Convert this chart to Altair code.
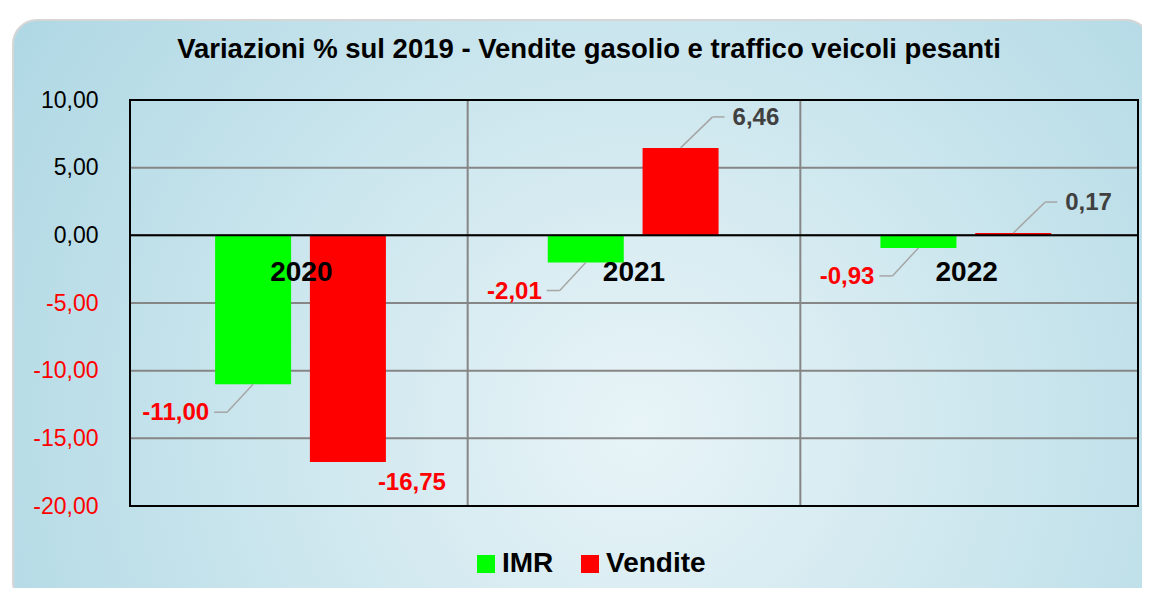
import altair as alt
import pandas as pd

# ---- data ----
years = ["2020", "2021", "2022"]
imr = [-11.00, -2.01, -0.93]
vendite = [-16.75, 6.46, 0.17]
series_names = ["IMR", "Vendite"]
series_colors = ["#00ff00", "#ff0000"]
y_ticks = [-20, -15, -10, -5, 0, 5, 10]
title_text = "Variazioni % sul 2019 - Vendite gasolio e traffico veicoli pesanti"

rows = []
for i, yr in enumerate(years):
    rows.append({"year": yr, "idx": i, "series": "IMR", "value": imr[i]})
    rows.append({"year": yr, "idx": i, "series": "Vendite", "value": vendite[i]})
df = pd.DataFrame(rows)
cats = pd.DataFrame({"year": years, "idx": list(range(len(years)))})
grid_y = pd.DataFrame({"value": y_ticks})
grid_x = pd.DataFrame({"pos": list(range(1, len(years)))})

W, H = 1008, 406
FONT = "Liberation Sans"
GRID = "#868686"
LEAD = "#a6a6a6"
FMT = "(datum.value < 0 ? '-' : '') + replace(format(abs(datum.value), '.2f'), '.', ',')"

y_axis = alt.Axis(
    values=y_ticks,
    labelExpr=FMT,
    labelColor={"condition": {"test": "datum.value < 0", "value": "#ff0000"}, "value": "#000000"},
    labelFont=FONT, labelFontSize=23, labelPadding=32,
    grid=False, domain=False, ticks=False, zindex=1, title=None,
)
y_scale = alt.Scale(domain=[-20, 10], nice=False, zero=False)
x_scale = alt.Scale(domain=[0, 3], nice=False, zero=False)


def X(field="pos"):
    return alt.X(f"{field}:Q", scale=x_scale, axis=None)


def Y(field="value"):
    return alt.Y(f"{field}:Q", scale=y_scale, axis=y_axis)


base = alt.Chart(df).transform_calculate(
    pos="datum.idx + 0.5 + (datum.series == 'IMR' ? -0.145 : 0.14)",
    label=FMT,
)

one = pd.DataFrame({"k": [0]})

# card background
card = alt.Chart(one).mark_rect(
    cornerRadius=24,
    stroke="#d6d6d6",
    strokeWidth=2,
    fill=alt.Gradient(
        gradient="radial",
        stops=[alt.GradientStop(color="#e8f4f7", offset=0),
               alt.GradientStop(color="#a9d5e2", offset=1)],
        x1=0.55, y1=0.6, x2=0.55, y2=0.6, r1=0, r2=0.72,
    ),
).encode(x=alt.value(-117), x2=alt.value(W + 12), y=alt.value(-80), y2=alt.value(H + 100))

title = alt.Chart(one).mark_text(
    text=title_text, font=FONT, fontSize=27.5, fontWeight="bold", color="black",
    align="center", baseline="alphabetic",
).encode(x=alt.value(W / 2 - 45), y=alt.value(-42))

hgrid = alt.Chart(grid_y).mark_rule(color=GRID, strokeWidth=2).encode(y=Y())
vgrid = alt.Chart(grid_x).mark_rule(color=GRID, strokeWidth=2).encode(x=X())

bars = base.mark_bar(size=76, orient="vertical").encode(
    x=X(),
    y=Y(),
    y2=alt.datum(0),
    color=alt.Color(
        "series:N",
        scale=alt.Scale(domain=series_names, range=series_colors),
        legend=alt.Legend(
            orient="none", legendX=342, legendY=450, direction="horizontal",
            title=None, symbolType="square", symbolSize=324, symbolStrokeWidth=0,
            labelFont=FONT, labelFontSize=28, labelFontWeight="bold",
            labelColor="#000000", labelOffset=2, columnPadding=22, padding=0,
        ),
    ),
)

zero = alt.Chart(pd.DataFrame({"value": [0]})).mark_rule(color="black", strokeWidth=2).encode(y=Y())

border = alt.Chart(one).mark_rect(
    filled=False, stroke="black", strokeWidth=2
).encode(x=alt.value(0), x2=alt.value(W), y=alt.value(0), y2=alt.value(H))

imr_f = "datum.series == 'IMR'"
ven_pos = "datum.series == 'Vendite' && datum.value > 0"
ven_neg = "datum.series == 'Vendite' && datum.value <= 0"

lead_enc = dict(x=X(), x2=alt.X2("pos:Q"), y=Y(), y2=alt.Y2("value:Q"))
imr_l1 = base.transform_filter(imr_f).mark_rule(
    color=LEAD, strokeWidth=1.5, x2Offset=-26, y2Offset=28).encode(**lead_enc)
imr_l2 = base.transform_filter(imr_f).mark_rule(
    color=LEAD, strokeWidth=1.5, xOffset=-26, yOffset=28, x2Offset=-39, y2Offset=28).encode(**lead_enc)
ven_l1 = base.transform_filter(ven_pos).mark_rule(
    color=LEAD, strokeWidth=1.5, x2Offset=32, y2Offset=-31).encode(**lead_enc)
ven_l2 = base.transform_filter(ven_pos).mark_rule(
    color=LEAD, strokeWidth=1.5, xOffset=32, yOffset=-31, x2Offset=44, y2Offset=-31).encode(**lead_enc)

txt = dict(font=FONT, fontSize=24, fontWeight="bold", baseline="middle")
imr_t = base.transform_filter(imr_f).mark_text(
    align="right", dx=-44, dy=29, color="#ff0000", **txt).encode(x=X(), y=Y(), text="label:N")
ven_pt = base.transform_filter(ven_pos).mark_text(
    align="left", dx=52, dy=-30, color="#404040", **txt).encode(x=X(), y=Y(), text="label:N")
ven_nt = base.transform_filter(ven_neg).mark_text(
    align="center", dx=64, dy=21, color="#ff0000", **txt).encode(x=X(), y=Y(), text="label:N")

cat_t = alt.Chart(cats).transform_calculate(pos="datum.idx + 0.5", value="0").mark_text(
    font=FONT, fontSize=28, fontWeight="bold", color="black", baseline="middle", dy=38
).encode(x=X(), y=Y(), text="year:N")

chart = alt.layer(
    card, title, hgrid, vgrid, bars, zero, border,
    imr_l1, imr_l2, ven_l1, ven_l2, imr_t, ven_pt, ven_nt, cat_t,
).properties(
    width=W, height=H,
    autosize=alt.AutoSizeParams(type="none"),
    padding={"left": 122, "top": 92, "right": 4, "bottom": 82},
    background="white",
).configure_view(stroke=None)

chart.save("out.html", embed_options={"renderer": "svg", "actions": False})
